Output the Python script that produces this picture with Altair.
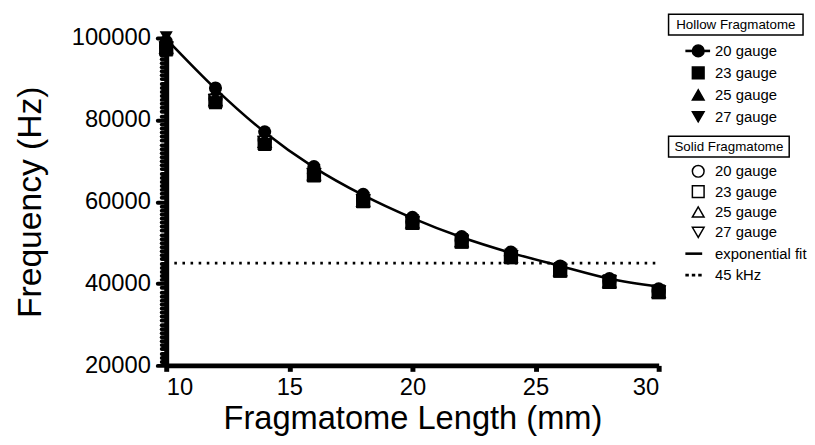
import altair as alt
import pandas as pd

# ---------------- data ----------------
lengths = [10, 12, 14, 16, 18, 20, 22, 24, 26, 28, 30]

hollow_20 = [99200, 87800, 77100, 68600, 61800, 56200, 51500, 47700, 44300, 41200, 38700]
hollow_23 = [97100, 84200, 74000, 66300, 60000, 54700, 50100, 46300, 43000, 40300, 37800]
hollow_25 = [98800, 86000, 75600, 67400, 60800, 55400, 50800, 47000, 43700, 40800, 38300]
hollow_27 = [100300, 86500, 76000, 67800, 61000, 55600, 51000, 47200, 43900, 40900, 38400]

solid_20 = [97900, 85200, 75000, 66900, 60500, 55100, 50500, 46800, 43500, 40600, 38100]
solid_23 = [97500, 84700, 74400, 66600, 60200, 54900, 50300, 46500, 43200, 40400, 37900]
solid_25 = [97700, 84900, 74700, 66700, 60300, 55000, 50400, 46600, 43300, 40500, 38000]
solid_27 = [97600, 84800, 74600, 66700, 60300, 54900, 50400, 46600, 43300, 40500, 38000]

fit_curve = [99800, 87600, 77000, 68400, 61600, 56000, 51300, 47500, 44300, 41200, 39300]

threshold = 45000
gauges = ["20 gauge", "23 gauge", "25 gauge", "27 gauge"]
shapes = ["circle", "square", "triangle-up", "triangle-down"]

x_ticks = [10, 15, 20, 25, 30]
y_minor = list(range(20000, 100001, 1000))

# ---------------- tables ----------------
def long(series_list, order):
    rows = []
    for gi in order:
        for L, v in zip(lengths, series_list[gi]):
            rows.append({"length": L, "freq": v, "gauge": gauges[gi]})
    return pd.DataFrame(rows)

hollow = [hollow_20, hollow_23, hollow_25, hollow_27]
solid = [solid_20, solid_23, solid_25, solid_27]
df_hollow = long(hollow, [1, 2, 3, 0])   # circle drawn last (on top)
df_solid = long(solid, [1, 0, 2, 3])
df_fit = pd.DataFrame({"length": lengths, "fit": fit_curve})
df_thr = pd.DataFrame({"length": [lengths[0]], "x2": [lengths[-1]], "freq": [threshold]})

FONT = "Liberation Sans"
W, H = 498, 331

xscale = alt.Scale(domain=[10, 30], nice=False, zero=False)
yscale = alt.Scale(domain=[20000, 100000], nice=False, zero=False)
shape_scale = alt.Scale(domain=gauges, range=shapes)

x_axis = alt.Axis(values=x_ticks, tickSize=6, tickWidth=5, labelFontSize=24,
                  labelPadding=4, titleFontSize=33, titleFontWeight="normal",
                  titlePadding=4, grid=False, domainWidth=5,
                  domainColor="black", tickColor="black", labelColor="black", titleColor="black",
                  labelFont=FONT, titleFont=FONT)
y_axis = alt.Axis(values=y_minor, grid=False, domainWidth=5,
                  labelExpr="datum.value % 20000 == 0 ? format(datum.value, 'd') : ''",
                  tickSize={"condition": {"test": "datum.value % 20000 == 0", "value": 9}, "value": 5},
                  tickWidth=4, tickCap="round", labelFontSize=24, labelPadding=7,
                  labelOverlap=False, titleFontSize=34, titleFontWeight="normal", titlePadding=24,
                  domainColor="black", tickColor="black", labelColor="black", titleColor="black",
                  labelFont=FONT, titleFont=FONT)

x_enc = alt.X("length:Q", scale=xscale, title="Fragmatome Length (mm)", axis=x_axis)
y_title = "Frequency (Hz)"

fit_line = alt.Chart(df_fit).mark_line(color="black", strokeWidth=2.6, interpolate="monotone").encode(
    x=x_enc, y=alt.Y("fit:Q", scale=yscale, title=y_title, axis=y_axis))

thr_line = alt.Chart(df_thr).mark_rule(color="black", strokeWidth=2.8, strokeDash=[2.6, 5.6]).encode(
    x=x_enc, x2="x2:Q", y=alt.Y("freq:Q", scale=yscale, title=y_title, axis=y_axis))

open_pts = alt.Chart(df_solid).mark_point(filled=True, fill="white", stroke="black",
                                          strokeWidth=1.6, opacity=1, size=165).encode(
    x=x_enc, y=alt.Y("freq:Q", scale=yscale, title=y_title, axis=y_axis),
    shape=alt.Shape("gauge:N", scale=shape_scale, legend=None))

filled_pts = alt.Chart(df_hollow).mark_point(filled=True, color="black", opacity=1, size=175).encode(
    x=x_enc, y=alt.Y("freq:Q", scale=yscale, title=y_title, axis=y_axis),
    shape=alt.Shape("gauge:N", scale=shape_scale, legend=None))

main = alt.layer(fit_line, thr_line, open_pts, filled_pts)

# ---------------- custom legend (layout in pixels of the plot area) ----------------
SYM_X, TXT_X, BOX_X1 = 538, 555, 508
leg_titles = pd.DataFrame({
    "text": ["Hollow Fragmatome", "Solid Fragmatome"],
    "ly": [-13.5, 109.7],
    "y1": [-24.0, 99.2], "y2": [-3.0, 120.2],
    "bx1": [BOX_X1, BOX_X1], "bx2": [644, 630], "tx": [576, 569]})

sym_rows = []
for i in range(4):
    sym_rows.append({"text": gauges[i], "ly": 13 + 22.2 * i, "shape": shapes[i], "fill": "black"})
for i in range(4):
    sym_rows.append({"text": gauges[i], "ly": 134.7 + 20.6 * i, "shape": shapes[i], "fill": "white"})
df_sym = pd.DataFrame(sym_rows)
df_lines = pd.DataFrame({"text": ["exponential fit", "45 kHz"], "ly": [218.0, 239.7]})
df_all_text = pd.concat([df_sym[["text", "ly"]], df_lines[["text", "ly"]]])

ly_enc = alt.Y("ly:Q", scale=None, axis=None)

boxes = alt.Chart(leg_titles).mark_rect(fill="white", stroke="black", strokeWidth=1.5).encode(
    x=alt.X("bx1:Q", scale=None, axis=None), x2="bx2:Q",
    y=alt.Y("y1:Q", scale=None, axis=None), y2="y2:Q")
title_txt = alt.Chart(leg_titles).mark_text(font=FONT, fontSize=13.5, align="center",
                                            baseline="middle", color="black").encode(
    x=alt.X("tx:Q", scale=None, axis=None), y=ly_enc, text="text:N")
sym_marks = alt.Chart(df_sym).mark_point(filled=True, stroke="black", strokeWidth=1.5,
                                         opacity=1, size=140).encode(
    x=alt.value(SYM_X), y=ly_enc,
    shape=alt.Shape("shape:N", scale=None, legend=None),
    fill=alt.Fill("fill:N", scale=None, legend=None))
circ_bar = alt.Chart(df_sym.iloc[[0]]).mark_rule(color="black", strokeWidth=2.6).encode(
    x=alt.value(525), x2=alt.value(550), y=ly_enc)
fit_leg = alt.Chart(df_lines.iloc[[0]]).mark_rule(color="black", strokeWidth=2.6).encode(
    x=alt.value(525), x2=alt.value(542), y=ly_enc)
thr_leg = alt.Chart(df_lines.iloc[[1]]).mark_rule(color="black", strokeWidth=2.6,
                                                   strokeDash=[3.5, 3]).encode(
    x=alt.value(525), x2=alt.value(542), y=ly_enc)
leg_txt = alt.Chart(df_all_text).mark_text(font=FONT, fontSize=15, align="left",
                                           baseline="middle", color="black").encode(
    x=alt.value(TXT_X), y=ly_enc, text="text:N")

legend = alt.layer(boxes, title_txt, circ_bar, sym_marks, fit_leg, thr_leg, leg_txt)

chart = alt.layer(main, legend).properties(
    width=W, height=H, background="white",
    padding={"left": 5, "top": 3, "right": 0, "bottom": 0}
).configure_view(stroke="transparent", strokeWidth=0)

chart.save("out.html", embed_options={"renderer": "svg", "actions": False})
